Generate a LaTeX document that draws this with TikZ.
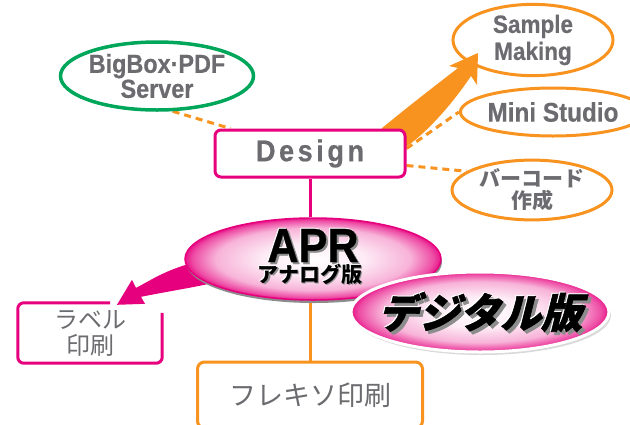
\documentclass[tikz,border=0pt]{standalone}
\usepackage{fontspec}
\usetikzlibrary{shapes.geometric,shadows,backgrounds}
\newfontfamily\latinfont[FakeStretch=0.9,BoldFeatures={FakeBold=0.6}]{Liberation Sans}
\newfontfamily\jpfont{Noto Sans CJK JP}
\newfontfamily\jpslant[FakeSlant=0.25,BoldFeatures={FakeBold=1.5}]{Noto Sans CJK JP}
\definecolor{aprpink}{RGB}{230,0,126}
\definecolor{aprorange}{RGB}{247,147,30}
\definecolor{aprgreen}{RGB}{0,166,90}
\definecolor{textgray}{RGB}{108,108,112}
\definecolor{shadowgray}{RGB}{140,140,140}
\colorlet{pinklight}{aprpink!8}
\colorlet{pinkmid}{aprpink!30}
\colorlet{pinkdeep}{aprpink!70}
\pgfdeclareradialshading{aprshade}{\pgfpoint{0bp}{0bp}}{color(0bp)=(white); color(10bp)=(pinklight); color(19bp)=(pinkmid); color(23.5bp)=(pinkdeep); color(25.5bp)=(aprpink); color(50bp)=(aprpink)}
\newcommand\popout[2][2pt]{\makebox[0pt][l]{\hspace{#1}\raisebox{-#1}{\color{shadowgray}#2}}\makebox[0pt][l]{\hspace{-1pt}\raisebox{1pt}{\color{white}#2}}#2}
\begin{document}
\begin{tikzpicture}[x=1pt,y=-1pt,
  greenoval/.style={ellipse,draw=aprgreen,line width=3.5pt,inner sep=0pt,text=textgray,align=center},
  orangeoval/.style={ellipse,draw=aprorange,line width=3pt,inner sep=0pt,text=textgray,align=center},
  pinkbox/.style={rectangle,rounded corners=6pt,draw=aprpink,line width=3pt,inner sep=0pt,fill=white},
  orangebox/.style={rectangle,rounded corners=7pt,draw=aprorange,line width=3pt,inner sep=0pt,fill=white},
  bigoval/.style={ellipse,shade,shading=aprshade,draw=aprpink,line width=1.5pt,inner sep=0pt},
  dashlink/.style={draw=aprorange,line width=3pt,dash pattern=on 7pt off 5pt},
  latinbold/.style={font=\latinfont\bfseries\fontsize{#1}{#1}\selectfont},
  jpbold/.style={font=\jpfont\bfseries\fontsize{#1}{#1}\selectfont}]
\clip (0,0) rectangle (630,424);

\node[greenoval,minimum width=161pt,minimum height=68pt,font=\latinfont\bfseries\fontsize{26}{25}\selectfont] (bigbox) at (157,76) {BigBox·PDF\\Server};
\node[pinkbox,minimum width=190pt,minimum height=47pt,text=textgray,font=\latinfont\bfseries\fontsize{30}{30}\selectfont\addfontfeature{LetterSpace=12}] (design) at (310,153.5) {Design};

\node[orangeoval,minimum width=160pt,minimum height=70pt,font=\latinfont\bfseries\fontsize{25}{27}\selectfont] (sample) at (533,40) {Sample\\Making};
\node[orangeoval,minimum width=156pt,minimum height=48pt,latinbold=27] (mini) at (553,112) {Mini Studio};
\node[orangeoval,minimum width=160pt,minimum height=52pt,font=\jpfont\bfseries\fontsize{21}{22}\selectfont] (barcode) at (532,190) {バーコード\\作成};

\node[bigoval,minimum width=256pt,minimum height=82pt,drop shadow={shadow xshift=1pt,shadow yshift=-3pt,fill=shadowgray,opacity=1}] (apr) at (313,259) {};
\node[anchor=base,latinbold=48] (aprname) at ([shift={(0,3)}]apr.center) {\popout{APR}};
\node[anchor=base,jpbold=21] (aprsub) at ([shift={(-3,23)}]apr.center) {\popout[1.5pt]{アナログ版}};

\node[bigoval,draw=white,line width=3pt,minimum width=258pt,minimum height=80pt,drop shadow={shadow xshift=2pt,shadow yshift=-3pt,fill=black!15,opacity=1}] (digital) at (480,312) {};
\node[anchor=base,font=\jpslant\bfseries\fontsize{41}{41}\selectfont] (digitalname) at ([shift={(0,16)}]digital.center) {\popout[3pt]{デジタル版}};

\node[minimum width=144pt,minimum height=60pt,inner sep=0pt,text=textgray,align=center,font=\jpfont\fontsize{24}{26}\selectfont] (label) at (90,333) {ラベル\\印刷};
\draw[aprpink,line width=3pt,rounded corners=6pt] ([shift={(-52,0)}]label.north east) -- (label.north west) -- (label.south west) -- (label.south east) -- ([shift={(0,10)}]label.north east);

\node[orangebox,minimum width=225pt,minimum height=66pt,text=textgray,font=\jpfont\fontsize{27}{27}\selectfont] (flexo) at (310,395) {フレキソ印刷};

\coordinate (sampletip) at ([shift={(-55,13)}]sample.center);
\coordinate (labeltip) at ([shift={(27,2)}]label.north);

\begin{scope}[on background layer]
\draw[dashlink] (bigbox.-66) -- ([shift={(17,0)}]design.north west);
\draw[dashlink] ([shift={(0,-5)}]design.east) -- (mini.west);
\draw[dashlink] ([shift={(0,12)}]design.east) -- (barcode.164);

\draw[aprpink,line width=3pt] (design.south) -- (design.south |- apr.north);
\draw[aprorange,line width=3pt] (design.south |- apr.south) -- (flexo.north);

\fill[aprorange] ([shift={(-25,0)}]design.north east) .. controls (410,105) and (440,82) .. ([shift={(-20,15)}]sampletip) -- ([shift={(-29,13)}]sampletip) -- (sampletip) -- ([shift={(-1,32)}]sampletip) -- ([shift={(-7,23)}]sampletip) .. controls (455,100) and (430,130) .. ([shift={(0,18)}]design.north east) -- cycle;

\fill[aprpink] ([shift={(1,6)}]apr.west) .. controls (160,273) and (148,282) .. ([shift={(19,-17)}]labeltip) -- ([shift={(15,-25)}]labeltip) -- (labeltip) -- ([shift={(28,-1)}]labeltip) -- ([shift={(24,-8)}]labeltip) .. controls (165,292) and (190,288) .. ([shift={(24,25)}]apr.west) -- cycle;
\end{scope}

\end{tikzpicture}
\end{document}
